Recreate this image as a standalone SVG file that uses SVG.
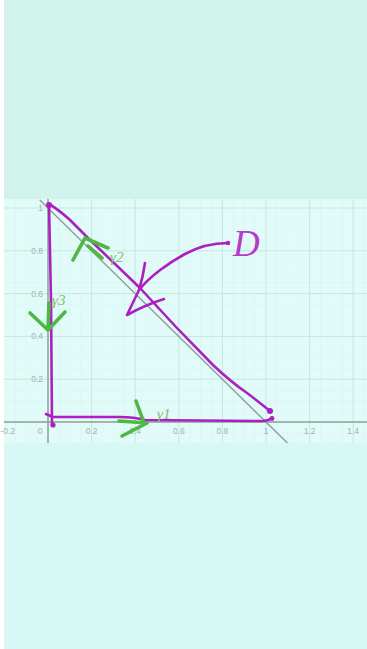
<svg xmlns="http://www.w3.org/2000/svg" width="367" height="649" viewBox="0 0 367 649">
<style>
.minor{stroke:#d8f3f0;stroke-width:0.5;fill:none}
.major{stroke:#c3e3df;stroke-width:0.9;fill:none}
.axis{stroke:#8e9e99;stroke-width:1.5;fill:none}
.tick{font-family:"Liberation Sans",Arial,sans-serif;font-size:8.5px;fill:#a3b2ae}
.tx{text-anchor:middle}
.ty{text-anchor:end}
.pur{stroke:#ad1fc0;stroke-width:2.6;fill:none;stroke-linecap:round;stroke-linejoin:round}
.grn{stroke:#4fb844;stroke-width:3.6;fill:none;stroke-linecap:round;stroke-linejoin:round}
.glab{font-family:"Liberation Serif","Times New Roman",serif;font-style:italic;font-size:15px;fill:#7cbf72}
.dlab{font-family:"Liberation Serif","Times New Roman",serif;font-style:italic;font-size:37px;fill:#b43cc8}
</style>
<rect x="0" y="0" width="367" height="649" fill="#d8f8f6"/>
<rect x="0" y="0" width="367" height="199" fill="#d2f3ec"/>
<g id="plot">
<rect x="4" y="199" width="363" height="244" fill="#e1fbf9"/>
<path class="minor" d="M15.3,199V443M26.2,199V443M37.1,199V443M58.9,199V443M69.8,199V443M80.7,199V443M102.5,199V443M113.4,199V443M124.3,199V443M146.1,199V443M157,199V443M167.9,199V443M189.7,199V443M200.6,199V443M211.5,199V443M233.3,199V443M244.2,199V443M255.1,199V443M276.9,199V443M287.8,199V443M298.7,199V443M320.5,199V443M331.4,199V443M342.3,199V443M364.1,199V443M4,218.7H367M4,229.4H367M4,240.1H367M4,261.5H367M4,272.2H367M4,282.9H367M4,304.3H367M4,315H367M4,325.7H367M4,347.1H367M4,357.8H367M4,368.5H367M4,389.9H367M4,400.6H367M4,411.3H367M4,432.7H367"/>
<path class="major" d="M91.6,199V443M135.2,199V443M178.8,199V443M222.4,199V443M266,199V443M309.6,199V443M353.2,199V443M4,208H367M4,250.8H367M4,293.6H367M4,336.4H367M4,379.2H367"/>
<path class="axis" d="M48,199V443M4,422H367"/>
<path d="M39.8,200L287.4,443" stroke="#8f9d98" stroke-width="1.4" fill="none"/>
</g>
<rect x="0" y="0" width="4" height="649" fill="#ffffff"/>
<g id="ticks">
<text class="tick" x="0.5" y="434">-0.2</text>
<text class="tick tx" x="40" y="434">0</text>
<text class="tick tx" x="91.6" y="434">0.2</text>
<text class="tick tx" x="135.2" y="434">0.4</text>
<text class="tick tx" x="178.8" y="434">0.6</text>
<text class="tick tx" x="222.4" y="434">0.8</text>
<text class="tick tx" x="266" y="434">1</text>
<text class="tick tx" x="309.6" y="434">1.2</text>
<text class="tick tx" x="353.2" y="434">1.4</text>
<text class="tick ty" x="43" y="211">1</text>
<text class="tick ty" x="43" y="253.8">0.8</text>
<text class="tick ty" x="43" y="296.6">0.6</text>
<text class="tick ty" x="43" y="339.4">0.4</text>
<text class="tick ty" x="43" y="382.2">0.2</text>
</g>
<g id="connectors">
<path id="edge-left" class="pur" d="M49,204L51,300L52,425"/>
<path id="edge-bottom" class="pur" d="M46,414L53,417L120,417Q134,417 145,420L262,421Q268,421 272,418"/>
<path id="edge-hyp" class="pur" d="M49,204C56,208 62,213 69,219L87,237L140,288Q176,328 213,365Q231,382 247,393Q259,402 270,411"/>
<path id="d-arrow" class="pur" d="M228,243C210,243 196,248 185,254C170,262 150,276 139,290"/>
<path id="d-arrowhead" class="pur" d="M145,263Q143,277 139,290L127,315Q145,305 164,299"/>
<circle cx="49" cy="205" r="3" fill="#ad1fc0"/>
<circle cx="53" cy="425" r="2.6" fill="#ad1fc0"/>
<circle cx="270" cy="411" r="3" fill="#ad1fc0"/>
<circle cx="272" cy="418.5" r="2.4" fill="#ad1fc0"/>
<circle cx="228" cy="243" r="2.2" fill="#ad1fc0"/>
</g>
<g id="gamma1">
<path class="grn" d="M136,401L143,420M119,421L147,423L122,436"/>
<text class="glab" x="157" y="419">γ1</text>
</g>
<g id="gamma2">
<path class="grn" d="M73,260L85,238L108,248"/>
<path class="grn" d="M88,246L102,258" stroke-width="4.5"/>
<text class="glab" x="110" y="262">γ2</text>
</g>
<g id="gamma3">
<path class="grn" d="M30,313L48,330L65,312M49,303L48,330"/>
<text class="glab" x="52" y="305">γ3</text>
</g>
<g id="label-D">
<text class="dlab" x="233" y="256">D</text>
</g>
</svg>
